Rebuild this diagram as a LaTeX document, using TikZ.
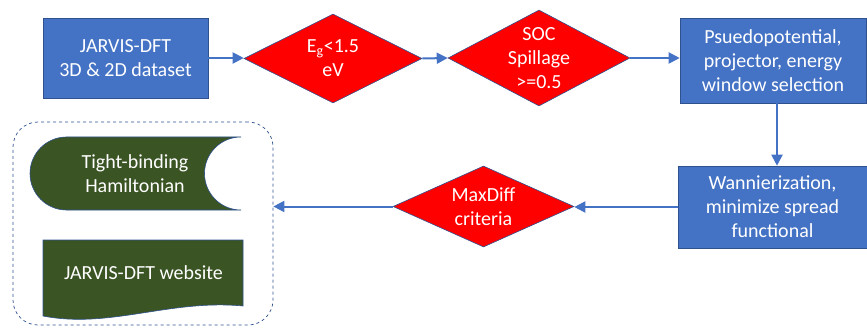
\documentclass[tikz,border=0pt]{standalone}
\usepackage{fontspec}
\setmainfont{Carlito}
\usetikzlibrary{shapes.geometric,arrows.meta}
\definecolor{boxblue}{HTML}{4472C4}
\definecolor{edgeblue}{HTML}{2F528F}
\definecolor{leafgreen}{HTML}{3A5424}

\begin{document}
\begin{tikzpicture}[x=1pt,y=1pt,
  every node/.style={font=\fontsize{20}{24}\selectfont, text=white, align=center},
  stepbox/.style={rectangle, draw=edgeblue, fill=boxblue, line width=0.6pt, inner sep=0pt},
  decision/.style={diamond, draw=edgeblue, fill=red, line width=0.6pt, inner sep=0pt},
  output/.style={draw=edgeblue, fill=leafgreen, line width=0.6pt},
  flow/.style={boxblue, line width=2pt, -{Triangle[length=11pt,width=11pt]}}]
\useasboundingbox (0,0) rectangle (867,327);
% top row
\node[stepbox, minimum width=165, minimum height=80] (src) at (125.5,269) {JARVIS-DFT\\3D \& 2D dataset};
\node[decision, minimum width=178, minimum height=89] (gap) at (333,268.5) {};
\node (gaptext) at (gap) {E\textsubscript{g}<1.5\\eV};
\node[decision, minimum width=182, minimum height=96] (soc) at (539,269) {};
\node (soctext) at (soc) {SOC\\Spillage\\>=0.5};
\node[stepbox, minimum width=186, minimum height=85] (pseudo) at (773,266.5) {Psuedopotential,\\projector, energy\\window selection};
% bottom row
\node[stepbox, minimum width=189, minimum height=82] (wann) at (772.5,120) {Wannierization,\\minimize spread\\functional};
\node[decision, minimum width=181, minimum height=81] (maxdiff) at (483.5,120.5) {};
\node (maxdifftext) at (maxdiff) {MaxDiff\\criteria};
\node[draw=edgeblue, dashed, line width=0.7pt, rounded corners=25, minimum width=260, minimum height=203] (out) at (143,103.5) {};
% outputs
\path[output] (241,190) -- (66.5,190) arc[start angle=90,end angle=270,radius=36.5]
  -- (241,117) arc[start angle=-90,end angle=-270,radius=36.5] -- cycle;
\node (tb) at (135,153.5) {Tight-binding\\Hamiltonian};
\path[output] (43,87) -- (243,87) -- (243,21) .. controls (170,28) and (110,-2) .. (43,11) -- cycle;
\node (web) at (143.5,54) {JARVIS-DFT website};
% arrows
\draw[flow] (src.east) -- (src.east -| gap.west);
\draw[flow] (gap.east) -- (soc.west);
\draw[flow] (soc.east) -- (soc.east -| pseudo.west);
\draw[flow] ([xshift=4]pseudo.south) -- ([xshift=4]pseudo.south |- wann.north);
\draw[flow] (wann.west) -- (wann.west -| maxdiff.east);
\draw[flow] (maxdiff.west) -- (maxdiff.west -| out.east);
\end{tikzpicture}
\end{document}
